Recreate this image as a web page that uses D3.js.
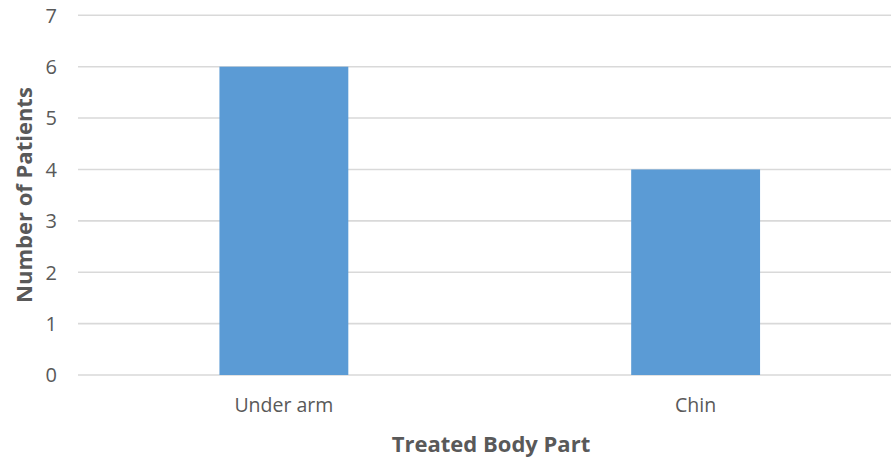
<!DOCTYPE html>
<html>
<head>
<meta charset="utf-8">
<script src="https://cdn.jsdelivr.net/npm/d3@7"></script>
<style>
  html, body { margin: 0; padding: 0; background: #fff; }
  svg { display: block; }
  text { font-family: "Open Sans", sans-serif; }
</style>
</head>
<body>
<svg id="chart" width="891" height="462"></svg>
<script>
// Patients per treated body part
const categories = ["Under arm", "Chin"];
const patients = [6, 4];
const yTicks = [0, 1, 2, 3, 4, 5, 6, 7];
const xTitle = "Treated Body Part";
const yTitle = "Number of Patients";

const svg = d3.select("#chart");
const plot = { left: 78, right: 901.5, top: 15.3, bottom: 375 };

const x = d3.scaleBand()
  .domain(categories)
  .range([plot.left, plot.right])
  .paddingInner(0.687)
  .paddingOuter(0.687 / 2);

const y = d3.scaleLinear()
  .domain([0, 7])
  .range([plot.bottom, plot.top]);

// horizontal gridlines
svg.append("g")
  .selectAll("line")
  .data(yTicks)
  .join("line")
  .attr("x1", plot.left)
  .attr("x2", plot.right)
  .attr("y1", d => y(d))
  .attr("y2", d => y(d))
  .attr("stroke", "#d9d9d9")
  .attr("stroke-width", 1.6);

// bars
svg.append("g")
  .selectAll("rect")
  .data(categories)
  .join("rect")
  .attr("x", d => x(d))
  .attr("width", x.bandwidth())
  .attr("y", (d, i) => y(patients[i]))
  .attr("height", (d, i) => y(0) - y(patients[i]))
  .attr("fill", "#5b9bd5");

// y-axis tick labels
const yAxis = d3.axisLeft(y).tickValues(yTicks).tickFormat(d3.format("d")).tickSize(0).tickPadding(0);
svg.append("g")
  .attr("transform", `translate(${57},0)`)
  .call(yAxis)
  .call(g => g.select(".domain").remove())
  .call(g => g.selectAll("text")
    .attr("fill", "#595959")
    .attr("dy", "0.34em")
    .style("font-size", "20px")
    .style("font-family", "Open Sans, sans-serif"));

// x-axis category labels
const xAxis = d3.axisBottom(x).tickSize(0).tickPadding(0);
svg.append("g")
  .attr("transform", `translate(0,${412})`)
  .call(xAxis)
  .call(g => g.select(".domain").remove())
  .call(g => g.selectAll("text")
    .attr("fill", "#595959")
    .attr("dy", "0")
    .style("font-size", "19.5px")
    .style("font-family", "Open Sans, sans-serif"));

// axis titles
svg.append("text")
  .attr("x", 491)
  .attr("y", 452)
  .attr("text-anchor", "middle")
  .attr("fill", "#595959")
  .style("font-size", "22px")
  .style("font-weight", "bold")
  .text(xTitle);

svg.append("text")
  .attr("transform", `translate(${32},${195}) rotate(-90)`)
  .attr("text-anchor", "middle")
  .attr("fill", "#595959")
  .style("font-size", "22px")
  .style("font-weight", "bold")
  .text(yTitle);
</script>
</body>
</html>
